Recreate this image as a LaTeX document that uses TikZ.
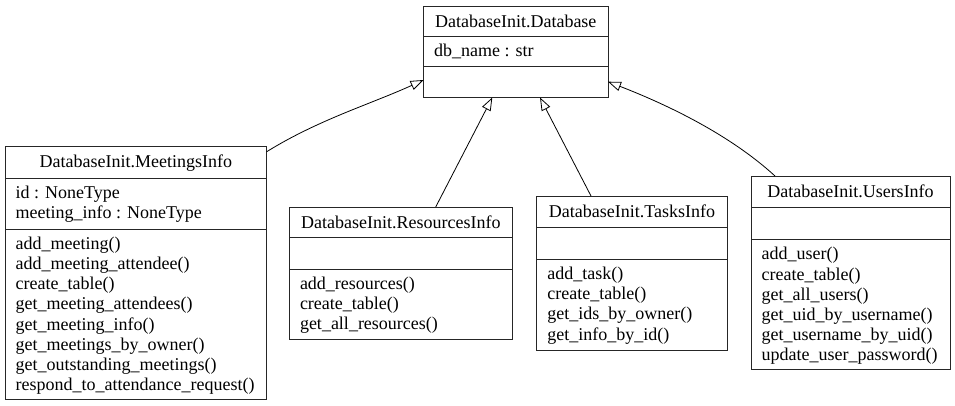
\documentclass[tikz,border=0pt]{standalone}
\usepackage{fontspec}
\setmainfont{Liberation Serif}
\usetikzlibrary{arrows.meta}
\tikzset{
  cls/.style={draw=black!85, line width=0.9pt, inner sep=0pt, outer sep=0pt, anchor=north west, fill=white},
  sep/.style={draw=black!85, line width=0.9pt},
  ttl/.style={anchor=base, inner sep=0pt, font=\fontsize{18}{20}\selectfont},
  txt/.style={anchor=base west, inner sep=0pt, font=\fontsize{18}{20}\selectfont},
  inh/.style={draw=black, line width=0.8pt, -{Triangle[open, length=13pt, width=9.5pt, line width=0.8pt]}},
}
\newcommand\classbox[6]{% name, x1, y1, x2, y2, title
  \node[cls, minimum width={(#4-#2)*1pt}, minimum height={(#5-#3)*1pt}] (#1) at (#2,#3) {};
  \node[ttl] (#1-title) at ({(#2+#4)/2},{#3+21}) {#6};
}
\newcommand\memberlist[4]{% prefix, x, first baseline y, list
  \foreach \t [count=\i from 0] in {#4} {
    \node[txt] (#1\i) at (#2,{#3+20.2*\i}) {\t};
  }
}
\begin{document}
\begin{tikzpicture}[x=1pt, y=-1pt]
\useasboundingbox (0,0) rectangle (955,405);

% Database
\classbox{db}{423.5}{6}{608}{97.5}{DatabaseInit.Database}
\draw[sep] (423.5,36.7) -- (608,36.7);
\draw[sep] (423.5,66.7) -- (608,66.7);
\memberlist{dba}{434}{56.7}{db\_name : str}

% MeetingsInfo
\classbox{meet}{5}{146.7}{266.7}{399}{DatabaseInit.MeetingsInfo}
\draw[sep] (5,178) -- (266.7,178);
\draw[sep] (5,229.3) -- (266.7,229.3);
\memberlist{ma}{15.5}{198.5}{id : NoneType, meeting\_info : NoneType}
\memberlist{mm}{15.5}{249.3}{add\_meeting(), add\_meeting\_attendee(), create\_table(), get\_meeting\_attendees(), get\_meeting\_info(), get\_meetings\_by\_owner(), get\_outstanding\_meetings(), respond\_to\_attendance\_request()}

% ResourcesInfo
\classbox{res}{289.3}{207}{512.3}{339.3}{DatabaseInit.ResourcesInfo}
\draw[sep] (289.3,237.3) -- (512.3,237.3);
\draw[sep] (289.3,269.3) -- (512.3,269.3);
\memberlist{rm}{299.8}{289.3}{add\_resources(), create\_table(), get\_all\_resources()}

% TasksInfo
\classbox{task}{536.7}{196}{727.3}{350}{DatabaseInit.TasksInfo}
\draw[sep] (536.7,227.3) -- (727.3,227.3);
\draw[sep] (536.7,259.3) -- (727.3,259.3);
\memberlist{tm}{547.2}{279.5}{add\_task(), create\_table(), get\_ids\_by\_owner(), get\_info\_by\_id()}

% UsersInfo
\classbox{user}{751}{176}{950}{369.3}{DatabaseInit.UsersInfo}
\draw[sep] (751,207.3) -- (950,207.3);
\draw[sep] (751,239.3) -- (950,239.3);
\memberlist{um}{761.5}{259.8}{add\_user(), create\_table(), get\_all\_users(), get\_uid\_by\_username(), get\_username\_by\_uid(), update\_user\_password()}

% inheritance
\draw[inh] ([yshift=-5pt]meet.north east) .. controls (318.7,119.5) and (371.3,103.9) .. ([yshift=17.5pt]db.south west);
\draw[inh] ([xshift=34.9pt]res.north) -- ([xshift=68.8pt]db.south west);
\draw[inh] ([xshift=-41pt]task.north) -- ([xshift=116.5pt]db.south west);
\draw[inh] ([xshift=24pt]user.north west) .. controls (730,134.8) and (668.3,105.1) .. ([yshift=15.8pt]db.south east);
\end{tikzpicture}
\end{document}
